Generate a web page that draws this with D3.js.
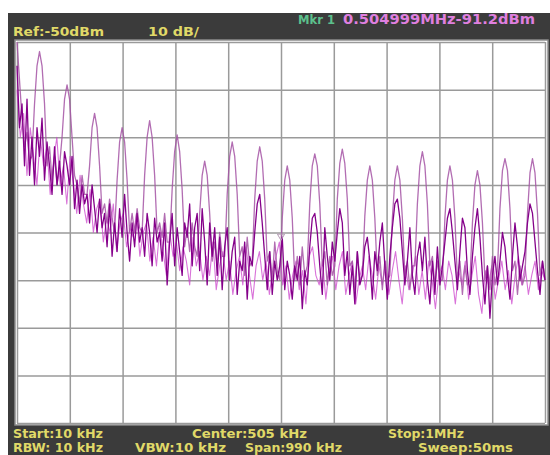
<!DOCTYPE html>
<html>
<head>
<meta charset="utf-8">
<script src="https://cdn.jsdelivr.net/npm/d3@7/dist/d3.min.js"></script>
<style>
body { margin: 0; background: white; }
</style>
</head>
<body>
<div id="container"></div>
<script>
const START_KHZ = 10
const STOP_KHZ = 1000
const REF_DBM = -50
const DB_PER_DIV = 10
const X_DIVS = 10
const Y_DIVS = 8

// previous sweep (light trace), one value per sweep point, dBm
var trace_hold = [
    -50, -58, -66, -72, -69, -75,
    -74, -63, -55, -52, -55, -63, -76,   -72, -79, -74, -80,
    -76, -70, -62, -59, -62, -70, -78,   -80, -84, -78, -82,
    -82, -76, -68, -65, -68, -76, -86,   -84, -88, -83, -87,
    -90, -79, -71, -68, -71, -79, -90,   -86, -90, -85, -89,
    -90, -78, -70, -66.5, -70, -78, -90, -88, -91, -86, -92,
    -92, -81, -73, -69.5, -73, -81, -93, -89, -94, -88, -93,
    -95, -86, -78, -75, -78, -86, -96,   -92, -97, -90, -95,
    -95, -82, -74, -71, -74, -82, -95,   -93, -99, -91, -97,
    -96, -83, -75, -72, -75, -83, -96,   -94, -100, -92, -98,
    -100, -87, -79, -76, -79, -87, -100, -95, -101, -93, -99,
    -97, -84, -76, -73.5, -76, -84, -97, -94, -101, -95, -99,
    -97, -83, -75.5, -72.5, -75.5, -83, -97, -96, -102, -94, -100,
    -99, -86.5, -79, -76, -79, -87, -99, -95, -102, -96, -100,
    -99, -87, -79, -76, -79, -87, -99,   -96, -102, -97,
    -97, -84, -76, -73, -76, -84, -97,   -95, -101, -96, -100,
    -100, -87, -79, -76, -79, -87, -100, -96, -103, -97, -101,
    -100, -88, -80, -77, -80, -88, -100, -97, -102, -95, -101,
    -98, -85, -77, -74.5, -77, -85, -98, -96, -103, -97, -101,
    -99, -86, -77.5, -74.5, -77.5, -86, -99,
    -96, -100
]

// live sweep (dark trace), dBm
var trace_live = [
    -55, -68, -63, -76, -62, -78,
    -70, -80, -68, -74, -66, -79, -71,   -76, -82, -72, -80,
    -75, -82, -73, -76, -80, -74, -85,   -79, -86, -80, -84,
    -82, -88, -80, -85, -90, -83, -89,   -86, -93, -84, -95,
    -88, -94, -85, -91, -82, -90, -96,   -88, -93, -86, -92,
    -89, -95, -86, -90, -97, -87, -92,   -90, -96, -88, -101,
    -92, -86, -97, -89, -94, -99, -88,   -91, -84, -97, -89,
    -86, -98, -85, -92, -101, -88, -95,  -89, -99, -91, -102,
    -93, -89, -100, -94, -91, -103, -96, -98, -92, -104, -95,
    -97, -90, -84, -82, -88, -95, -102,  -94, -103, -96, -100,
    -97, -91, -102, -96, -99, -104, -97, -100, -95, -106, -98,
    -101, -93, -87, -86, -90, -97, -103, -89, -95, -100, -92,
    -96, -90, -85, -88, -99, -94, -103,  -97, -105, -94, -101,
    -99, -93, -91, -96, -104, -94, -98,  -92, -88, -97, -104,
    -95, -89, -84, -83, -87, -94, -101,  -96, -89, -99,
    -103, -95, -92, -98, -91, -100, -105, -96, -103, -93, -101,
    -97, -92, -87, -85, -90, -96, -102,  -94, -87, -89, -98,
    -103, -95, -89, -85, -91, -99, -105, -97, -108, -99, -95,
    -101, -96, -90, -93, -99, -104, -95, -88, -93, -100, -97,
    -94, -88, -84, -86, -92, -98, -103,
    -96, -100
]

// third trace (bright magenta, mostly under the others), dBm
var trace_avg = [
    -60, -70, -65, -78, -68, -74, -80, -70, -76,
    -72, -82, -75, -70, -80, -76, -84, -74,
    -80, -86, -78, -84, -88, -81, -90, -85,
    -83, -92, -87, -90, -84, -94, -88, -86,
    -93, -89, -91, -86, -95, -90, -88, -96,
    -91, -97, -89, -94, -99, -90, -95, -92,
    -98, -93, -96, -101, -91, -97, -94, -100,
    -95, -99, -92, -102, -97, -94, -100, -96,
    -103, -98, -95, -101, -93, -99, -104, -97,
    -94, -100, -96, -103, -98, -95, -92, -101,
    -97, -104, -99, -96, -102, -98, -105, -95,
    -93, -99, -101, -96, -104, -98, -95, -102,
    -97, -94, -103, -99, -96, -105, -100, -97,
    -102, -95, -99, -104, -97, -101, -96, -103,
    -98, -94, -100, -105, -97, -102, -99, -95,
    -103, -98, -104, -96, -100, -106, -99, -97,
    -102, -96, -99, -105, -98, -101, -96, -104,
    -99, -95, -103, -107, -98, -101, -97, -104,
    -100, -96, -102, -98, -105, -99, -95, -101,
    -97, -103, -99, -96, -102, -98, -100
]

var marker = {'freq': 505, 'level': -91.2}

var top_labels = ['Ref:-50dBm', '10 dB/']
var marker_labels = ['Mkr 1', '0.504999MHz-91.2dBm']
var bottom_row1 = ['Start:10 kHz', 'Center:505 kHz', 'Stop:1MHz']
var bottom_row2 = ['RBW: 10 kHz', 'VBW:10 kHz', 'Span:990 kHz', 'Sweep:50ms']

var scene_width = 550
var scene_height = 455
var plot = {'left': 17, 'right': 545, 'top': 42, 'bottom': 423}

var svg = d3.select('#container').append('svg')
    .attr('width', scene_width)
    .attr('height', scene_height)
    .style('display', 'block')

// instrument frame
svg.append('rect')
    .attr('x', 8).attr('y', 13)
    .attr('width', scene_width - 8).attr('height', scene_height - 13)
    .attr('fill', '#3b3b3b')

svg.append('rect')
    .attr('x', 15).attr('y', 40)
    .attr('width', 533).attr('height', 385)
    .attr('fill', 'white')
    .attr('stroke', '#8c8c8c')
    .attr('stroke-width', 1.5)

var x = d3.scaleLinear().domain([START_KHZ, STOP_KHZ]).range([plot.left, plot.right])
var y = d3.scaleLinear()
    .domain([REF_DBM - Y_DIVS * DB_PER_DIV, REF_DBM])
    .range([plot.bottom, plot.top])

var x_ticks = d3.range(X_DIVS + 1).map(function(k) { return START_KHZ + k * (STOP_KHZ - START_KHZ) / X_DIVS })
var y_ticks = d3.range(Y_DIVS + 1).map(function(k) { return REF_DBM - k * DB_PER_DIV })

svg.append('g')
    .attr('transform', 'translate(0,' + plot.bottom + ')')
    .call(d3.axisBottom(x).tickValues(x_ticks).tickSize(-(plot.bottom - plot.top)).tickFormat(''))
svg.append('g')
    .attr('transform', 'translate(' + plot.left + ',0)')
    .call(d3.axisLeft(y).tickValues(y_ticks).tickSize(-(plot.right - plot.left)).tickFormat(''))

svg.selectAll('.domain').remove()
svg.selectAll('.tick line')
    .attr('stroke', '#9a9a9a')
    .attr('stroke-width', 1.5)

svg.append('clipPath').attr('id', 'plot_clip')
    .append('rect')
    .attr('x', plot.left - 1).attr('y', plot.top)
    .attr('width', plot.right - plot.left + 2).attr('height', plot.bottom - plot.top)

function sweep_freq(i, n) {
    return START_KHZ + i * (STOP_KHZ - START_KHZ) / (n - 1)
}

function draw_trace(values, color, width, opacity) {
    var line = d3.line()
        .x(function(d, i) { return x(sweep_freq(i, values.length)) })
        .y(function(d) { return y(d) })
    svg.append('path')
        .datum(values)
        .attr('clip-path', 'url(#plot_clip)')
        .attr('d', line)
        .attr('fill', 'none')
        .attr('stroke', color)
        .attr('stroke-width', width)
        .attr('stroke-opacity', opacity)
        .attr('stroke-linejoin', 'round')
}

draw_trace(trace_avg, '#cc44cc', 1.1, 0.75)
draw_trace(trace_hold, '#a553a5', 1.3, 0.85)
draw_trace(trace_live, '#85008a', 1.3, 1)

// marker symbol
svg.append('path')
    .attr('d', d3.symbol().type(d3.symbolTriangle).size(22))
    .attr('transform', 'translate(' + x(marker.freq) + ',' + (y(marker.level) - 2) + ') rotate(180)')
    .attr('fill', 'none')
    .attr('stroke', '#b49ab4')
    .attr('stroke-width', 1)

function label(txt, lx, ly, len, color, size) {
    svg.append('text')
        .attr('x', lx).attr('y', ly)
        .attr('textLength', len)
        .attr('lengthAdjust', 'spacingAndGlyphs')
        .attr('fill', color)
        .style('font-family', '"DejaVu Sans", sans-serif')
        .style('font-weight', 'bold')
        .style('font-size', size + 'px')
        .text(txt)
}

var yellow = '#e0d968'
label(top_labels[0], 13, 36, 91, yellow, 13)
label(top_labels[1], 148, 36, 51, yellow, 13)
label(marker_labels[0], 298, 24, 37, '#5cc08c', 13)
label(marker_labels[1], 343, 24, 192, '#df7fdf', 14)

label(bottom_row1[0], 13, 437.5, 90, yellow, 12)
label(bottom_row1[1], 192, 437.5, 115, yellow, 12)
label(bottom_row1[2], 388, 437.5, 76, yellow, 12)
label(bottom_row2[0], 13, 452, 90, yellow, 12)
label(bottom_row2[1], 135, 452, 91, yellow, 12)
label(bottom_row2[2], 245, 452, 97, yellow, 12)
label(bottom_row2[3], 418, 452, 95, yellow, 12)
</script>
</body>
</html>
